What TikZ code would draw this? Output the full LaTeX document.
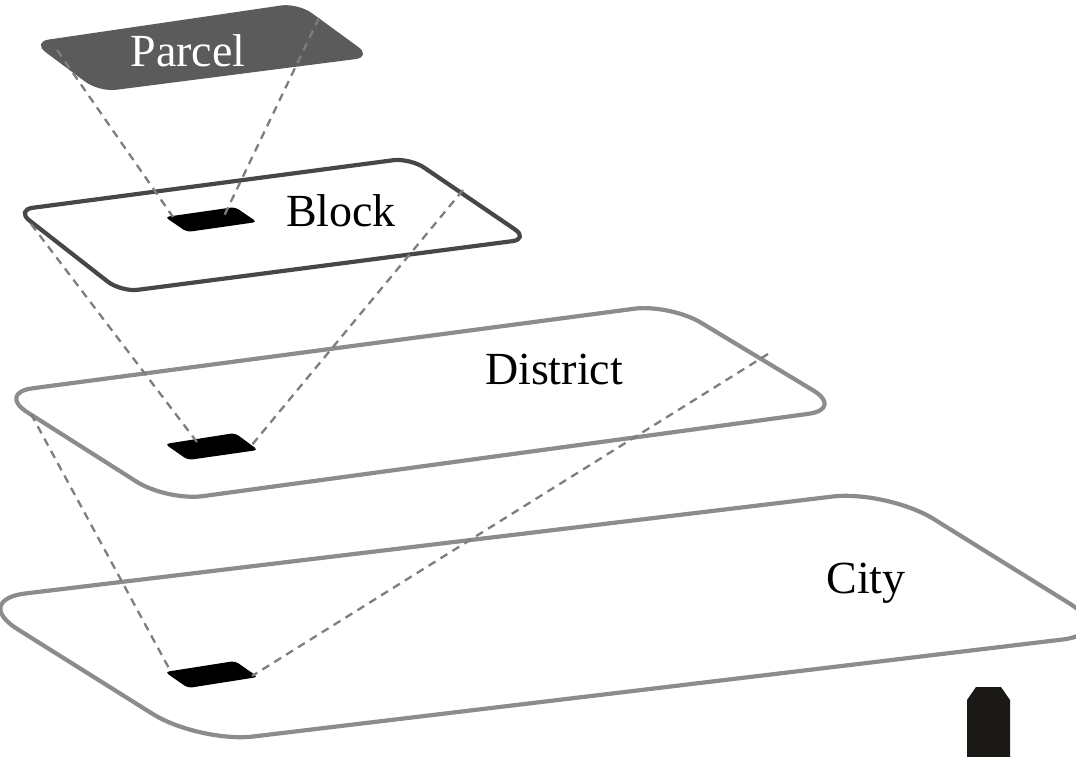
\documentclass[tikz,border=0pt]{standalone}
\usepackage{fontspec}
\setmainfont{Liberation Serif}
\begin{document}
\begin{tikzpicture}[x=1pt,y=-1pt,
  panel/.style={line width=4.2pt, line join=round},
  blockpanel/.style={panel, draw=blockgray},
  areapanel/.style={panel, draw=areagray},
  marker/.style={fill=black, rounded corners=4pt},
  link/.style={draw=linkgray, line width=2.3pt, dash pattern=on 8pt off 6pt},
  label/.style={anchor=base, inner sep=0pt, font=\fontsize{46}{50}\selectfont}]
\definecolor{parcelfill}{HTML}{5B5B5B}
\definecolor{blockgray}{HTML}{474747}
\definecolor{areagray}{HTML}{8C8C8C}
\definecolor{linkgray}{HTML}{7E7E7E}
\definecolor{pole}{HTML}{1B1915}
\useasboundingbox (0,0) rectangle (1076,757);

% City panel
\draw[areapanel, rounded corners=55pt]
  (-29,600) -- (887,490) -- (1117,633) -- (199,743) -- cycle;
\node[label] (city) at (866,593) {City};

% District panel
\draw[areapanel, rounded corners=36pt]
  (-3,393) -- (670,304) -- (844,409) -- (167,501) -- cycle;
\node[label] (district) at (554,384) {District};

% Block panel
\draw[blockpanel, rounded corners=17pt]
  (16,210) -- (410,158) -- (529,239) -- (121,292) -- cycle;
\node[label] (block) at (341,226) {Block};

% Parcel panel
\fill[parcelfill, rounded corners=17pt]
  (32,42) -- (298,3) -- (372,57) -- (99,92) -- cycle;
\node[label, text=white] (parcel) at (188,67) {Parcel};

% Footprints of the finer level inside each coarser one
\fill[marker] (165,217) -- (235,207) -- (257,222) -- (187,232) -- cycle;
\fill[marker] (165,444) -- (235,433) -- (258,450) -- (188,460) -- cycle;
\fill[marker] (165,672) -- (235,661) -- (258,677) -- (188,688) -- cycle;

% Projection end points
\coordinate (parcelL) at (57,50);
\coordinate (parcelR) at (319,18);
\coordinate (blockInL) at (173,217);
\coordinate (blockInR) at (224,216);
\coordinate (blockL) at (31,224);
\coordinate (blockR) at (463,190);
\coordinate (distInL) at (200,446);
\coordinate (distInR) at (251,446);
\coordinate (distL) at (31,414);
\coordinate (distR) at (768,354);
\coordinate (cityInL) at (171,672);
\coordinate (cityInR) at (252,676);

% Projection lines
\draw[link] (parcelL) -- (blockInL);
\draw[link] (parcelR) -- (blockInR);
\draw[link] (blockL) -- (distInL);
\draw[link] (blockR) -- (distInR);
\draw[link] (distL) -- (cityInL);
\draw[link] (distR) -- (cityInR);

% Dark post in the lower right corner
\fill[pole] (967,757) -- (967,700) -- (976,687) -- (1001,687) -- (1010,700) -- (1010,757) -- cycle;
\end{tikzpicture}
\end{document}
